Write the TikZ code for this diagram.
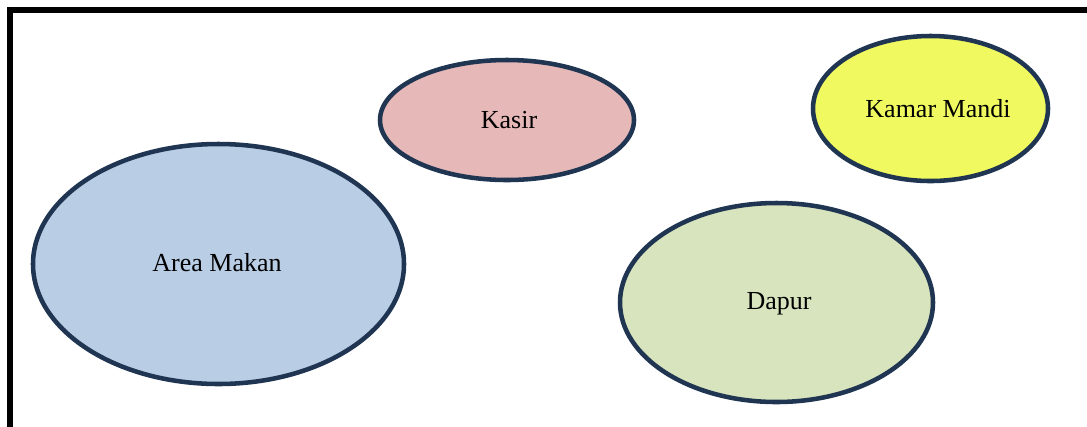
\documentclass[tikz,border=0pt]{standalone}
\usepackage{fontspec}
\setmainfont{Liberation Serif}
\usetikzlibrary{shapes.geometric}
\definecolor{edgenavy}{RGB}{31,53,82}
\definecolor{fillblue}{RGB}{185,205,229}
\definecolor{fillrose}{RGB}{230,185,184}
\definecolor{fillyellow}{RGB}{240,250,96}
\definecolor{fillgreen}{RGB}{215,228,189}
\tikzset{
  room/.style={ellipse, draw=edgenavy, line width=3.4pt, inner sep=0pt},
  roomtext/.style={font=\fontsize{19.5}{23}\selectfont, text=black, inner sep=0pt},
  frameline/.style={draw=black, line width=3.8pt, line join=miter}
}
\begin{document}
\begin{tikzpicture}[x=0.75pt, y=-0.75pt]
  \useasboundingbox (0,0) rectangle (1087,426);
  \clip (0,0) rectangle (1087,426);
  \fill[white] (0,0) rectangle (1087,426);
  % outer frame, only top and left edges fall inside the page
  \draw[frameline] (10,460) -- (10,10) -- (1120,10);
  % rooms
  \node[room, fill=fillblue, minimum width=278.25pt, minimum height=180pt] (area) at (218.5,264) {};
  \path (area.center) ++(-1.5,-1) node[roomtext] (areatext) {Area Makan};
  \node[room, fill=fillrose, minimum width=190.5pt, minimum height=90pt] (kasir) at (507,120) {};
  \path (kasir.center) ++(2,0) node[roomtext] (kasirtext) {Kasir};
  \node[room, fill=fillyellow, minimum width=176.25pt, minimum height=108.75pt] (kamar) at (930.5,108.5) {};
  \path (kamar.center) ++(7.5,0) node[roomtext] (kamartext) {Kamar Mandi};
  \node[room, fill=fillgreen, minimum width=234.75pt, minimum height=149.25pt] (dapur) at (776.5,302.5) {};
  \path (dapur.center) ++(2.5,1) node[roomtext] (dapurtext) {Dapur};
\end{tikzpicture}
\end{document}
